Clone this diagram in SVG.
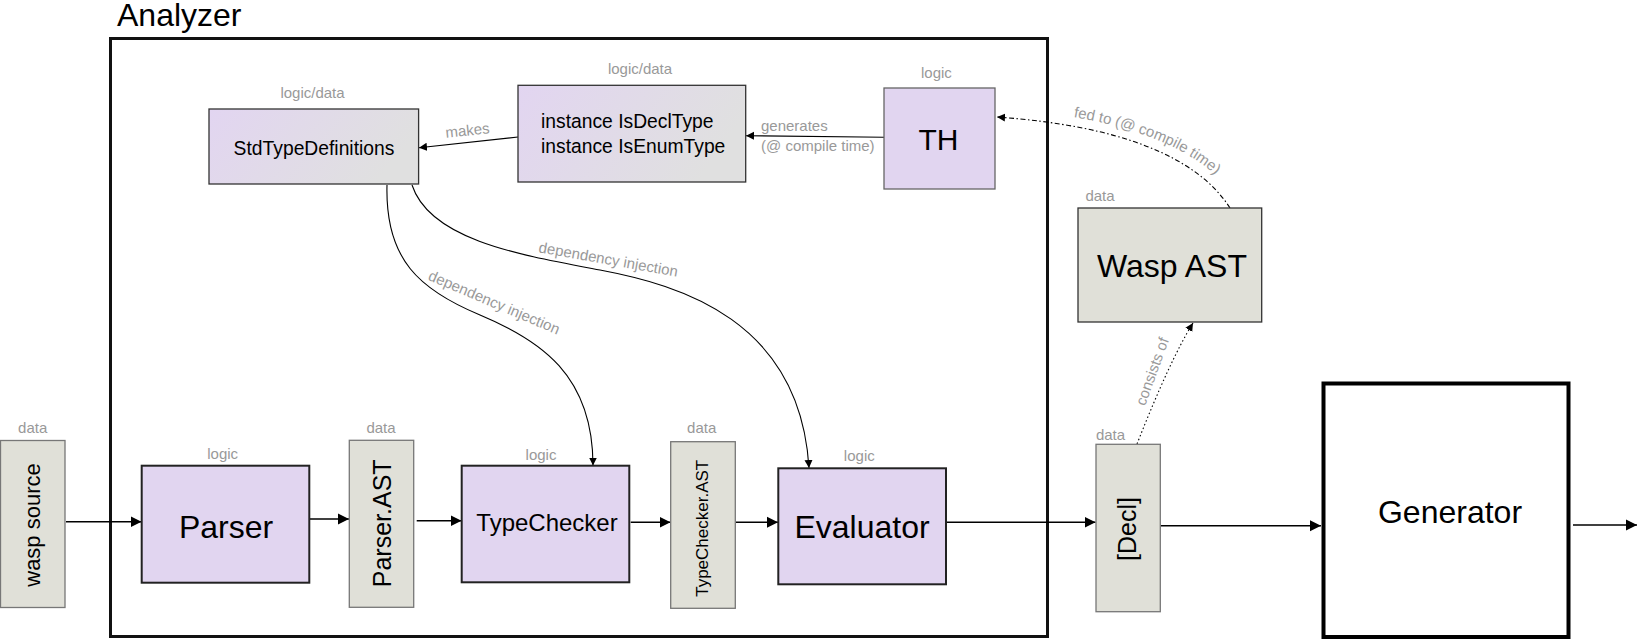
<svg xmlns="http://www.w3.org/2000/svg" width="1637" height="641" viewBox="0 0 1637 641">
<style>
text{font-family:"Liberation Sans",Arial,Helvetica,sans-serif;}
.lbl{font-size:15px;fill:#999;}
.big{font-size:32px;fill:#000;}
.mid{font-size:19.3px;fill:#000;}
.logic{fill:#e1d5f0;stroke:#222;stroke-width:2;}
.logicthin{fill:#e1d5f0;stroke:#666;stroke-width:1.3;}
.grad{fill:url(#lg);stroke:#333;stroke-width:1.3;}
.data{fill:#e0e0d8;stroke:#777;stroke-width:1.3;}
.frame{fill:none;stroke:#111;stroke-width:3;}
.gen{fill:#fff;stroke:#000;stroke-width:4;}
.flow{fill:none;stroke:#000;stroke-width:1.5;marker-end:url(#arr);}
.thin{fill:none;stroke:#000;stroke-width:1.1;marker-end:url(#arrs);}
.dashdot{fill:none;stroke:#000;stroke-width:1.1;stroke-dasharray:5 2.5 1.5 2.5;marker-end:url(#arrs);}
.dot{fill:none;stroke:#000;stroke-width:1.1;stroke-dasharray:1.5 2.5;marker-end:url(#arrs);}
</style>
<defs>
<linearGradient id="lg" x1="0" y1="0" x2="1" y2="0.3">
<stop offset="0" stop-color="#e2d5f1"/>
<stop offset="1" stop-color="#e0e0e0"/>
</linearGradient>
<marker id="arr" markerUnits="userSpaceOnUse" markerWidth="12" markerHeight="12" refX="11" refY="6" orient="auto">
<path d="M0,0.5 L11,6 L0,11.5 z" fill="#000"/>
</marker>
<marker id="arrs" markerUnits="userSpaceOnUse" markerWidth="9" markerHeight="9" refX="8" refY="4" orient="auto">
<path d="M0,0 L8,4 L0,8 z" fill="#000"/>
</marker>
<path id="fedpath" d="M997,108 Q1186,121 1238,201"/>
</defs>

<g id="analyzer">
<rect class="frame" x="110.5" y="38.5" width="937" height="598"/>
<text x="117" y="26" style="font-size:32px;fill:#000">Analyzer</text>
</g>

<g id="connectors">
<path class="flow" d="M66,521.7 L141.5,521.7"/>
<path class="flow" d="M310,519 L349,519"/>
<path class="flow" d="M416.7,520.7 L461.5,520.7"/>
<path class="flow" d="M630.7,522.3 L670.5,522.3"/>
<path class="flow" d="M736,522.3 L778,522.3"/>
<path class="flow" d="M937,522.3 L1095.5,522.3"/>
<path class="flow" d="M1160.3,525.7 L1321,525.7"/>
<path class="flow" d="M1573,525 L1637,525"/>
<path class="thin" d="M518,137 L419,147.7"/>
<path class="thin" d="M884,137.3 L746,135.7"/>
<path class="thin" d="M387,185 C385,260 420,290 480,315 S593,375 593,465.5"/>
<path class="thin" d="M412,185 C430,240 520,255 600,270 S800,320 809,468"/>
<path class="dashdot" d="M1230,208 Q1180,130 997,117"/>
<path class="dot" d="M1137,444 Q1170,360 1193,323"/>
<text class="lbl" text-anchor="middle" transform="translate(468,135.5) rotate(-6)">makes</text>
<text class="lbl" x="761" y="131">generates</text>
<text class="lbl" x="761" y="151">(@ compile time)</text>
<text class="lbl" text-anchor="middle" transform="translate(492.2,307.1) rotate(23)">dependency injection</text>
<text class="lbl" text-anchor="middle" transform="translate(607.5,264.4) rotate(10)">dependency injection</text>
<text class="lbl"><textPath href="#fedpath" startOffset="77">fed to (@ compile time)</textPath></text>
<text class="lbl" text-anchor="middle" transform="translate(1157,373.2) rotate(-70)">consists of</text>
</g>

<g id="wasp-source">
<rect class="data" x="0.5" y="440.5" width="64.5" height="167"/>
<text class="lbl" x="32.7" y="432.5" text-anchor="middle">data</text>
<text text-anchor="middle" transform="translate(40,525) rotate(-90)" style="font-size:22px">wasp source</text>
</g>

<g id="parser">
<rect class="logic" x="141.7" y="465.7" width="167.6" height="117"/>
<text class="lbl" x="222.7" y="458.5" text-anchor="middle">logic</text>
<text class="big" x="226" y="538" text-anchor="middle">Parser</text>
</g>

<g id="parser-ast">
<rect class="data" x="349.3" y="440.3" width="64.4" height="167"/>
<text class="lbl" x="381" y="432.5" text-anchor="middle">data</text>
<text text-anchor="middle" transform="translate(391.2,523.3) rotate(-90)" style="font-size:25px">Parser.AST</text>
</g>

<g id="typechecker">
<rect class="logic" x="461.7" y="465.7" width="167.6" height="116.6"/>
<text class="lbl" x="541" y="460" text-anchor="middle">logic</text>
<text x="547" y="531" text-anchor="middle" style="font-size:24px">TypeChecker</text>
</g>

<g id="typechecker-ast">
<rect class="data" x="670.7" y="441.7" width="64.6" height="166.6"/>
<text class="lbl" x="701.7" y="433" text-anchor="middle">data</text>
<text text-anchor="middle" transform="translate(708,528.3) rotate(-90)" style="font-size:17px">TypeChecker.AST</text>
</g>

<g id="evaluator">
<rect class="logic" x="778.3" y="468.3" width="167.7" height="116"/>
<text class="lbl" x="859.3" y="460.7" text-anchor="middle">logic</text>
<text class="big" x="862" y="538" text-anchor="middle">Evaluator</text>
</g>

<g id="std-type-definitions">
<rect class="grad" x="209" y="109" width="209.6" height="75"/>
<text class="lbl" x="312.5" y="98" text-anchor="middle">logic/data</text>
<text class="mid" x="314" y="155" text-anchor="middle">StdTypeDefinitions</text>
</g>

<g id="instances">
<rect class="grad" x="518" y="85.3" width="227.7" height="96.7"/>
<text class="lbl" x="640" y="74" text-anchor="middle">logic/data</text>
<text class="mid" x="541" y="128.3">instance IsDeclType</text>
<text class="mid" x="541" y="153.3">instance IsEnumType</text>
</g>

<g id="th">
<rect class="logicthin" x="884" y="88" width="111" height="101"/>
<text class="lbl" x="936.4" y="78" text-anchor="middle">logic</text>
<text x="938.5" y="150" text-anchor="middle" style="font-size:30px">TH</text>
</g>

<g id="wasp-ast">
<rect class="data" x="1078" y="208" width="183.7" height="114" style="stroke:#333"/>
<text class="lbl" x="1100" y="200.5" text-anchor="middle">data</text>
<text class="big" x="1172" y="277" text-anchor="middle">Wasp AST</text>
</g>

<g id="decl">
<rect class="data" x="1096" y="444.3" width="64.3" height="167.4"/>
<text class="lbl" x="1110.5" y="440" text-anchor="middle">data</text>
<text text-anchor="middle" transform="translate(1136,529) rotate(-90)" style="font-size:25px">[Decl]</text>
</g>

<g id="generator">
<rect class="gen" x="1323.5" y="383.5" width="245" height="253.5"/>
<text class="big" x="1450" y="523.3" text-anchor="middle">Generator</text>
</g>
</svg>
